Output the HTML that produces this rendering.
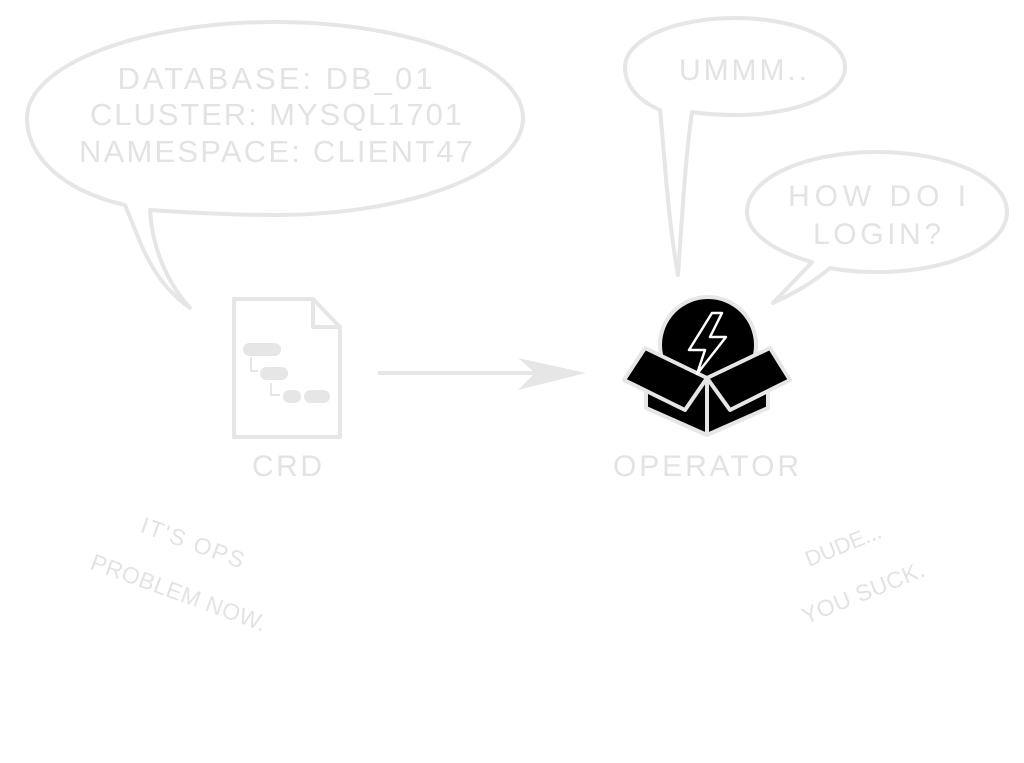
<!DOCTYPE html>
<html><head><meta charset="utf-8">
<style>
html,body{margin:0;padding:0;background:#fff;}
svg{display:block;}
text{font-family:"Liberation Sans",sans-serif;fill:#e3e3e3;}
</style></head>
<body>
<svg width="1024" height="763" viewBox="0 0 1024 763" xmlns="http://www.w3.org/2000/svg">
<g fill="#fff" stroke="#e6e6e6" stroke-width="4" stroke-linejoin="round">
  <path d="M190 308 C150 280,140 240,125 205 C60 190,27 155,27 118 C27 65,140 22,275 22 C410 22,523 65,523 118 C523 172,410 215,275 215 C230 215,180 212,150 210 C152 245,165 280,190 308 Z"/>
  <path d="M678 275 C668 220,665 160,660 110 C637 100,625 85,625 67 C625 40,673 18,735 18 C797 18,845 40,845 67 C845 95,797 115,735 115 C720 115,705 114,692 112 C685 160,682 220,678 275 Z"/>
  <path d="M773 303 C790 285,805 270,812 262 C775 252,747 233,747 212 C747 178,805 152,877 152 C949 152,1007 178,1007 212 C1007 246,949 272,877 272 C860 272,845 271,830 268 C810 285,790 295,773 303 Z"/>
</g>
<text x="275" y="89" font-size="31" text-anchor="middle" textLength="315">DATABASE: DB_01</text>
<text x="276" y="125" font-size="31" text-anchor="middle" textLength="372">CLUSTER: MYSQL1701</text>
<text x="276" y="162" font-size="31" text-anchor="middle" textLength="394">NAMESPACE: CLIENT47</text>
<text x="743" y="80" font-size="30" text-anchor="middle" textLength="128">UMMM..</text>
<text x="877" y="206" font-size="30" text-anchor="middle" textLength="178">HOW DO I</text>
<text x="877" y="244" font-size="30" text-anchor="middle" textLength="128">LOGIN?</text>

<g fill="none" stroke="#e6e6e6" stroke-width="4" stroke-linejoin="round">
  <path d="M234 299 L313 299 L340 327 L340 437 L234 437 Z"/>
  <path d="M313 299 L313 327 L340 327"/>
  <path d="M251 357 L251 371 L258 371" stroke-width="2"/>
  <path d="M271 383 L271 395 L280 395" stroke-width="2"/>
</g>
<g fill="#e6e6e6">
  <rect x="243" y="343" width="38" height="13" rx="6.5"/>
  <rect x="260" y="367" width="28" height="13" rx="6.5"/>
  <rect x="283" y="390" width="18" height="13" rx="6.5"/>
  <rect x="304" y="390" width="26" height="13" rx="6.5"/>
</g>
<text x="287" y="476" font-size="30" text-anchor="middle" textLength="70">CRD</text>

<line x1="378" y1="373" x2="560" y2="373" stroke="#e6e6e6" stroke-width="4"/>
<path d="M518 358 L586 373 L518 390 L535 373 Z" fill="#e6e6e6"/>

<g stroke="#e6e6e6" stroke-width="4" stroke-linejoin="round">
  <circle cx="708" cy="345" r="48" fill="#000"/>
  <path d="M646 362 L646 408 L707 435 L768 408 L768 362 L707 378 Z" fill="#000"/>
  <path d="M707 378 L707 435" fill="none"/>
  <path d="M645 348 L707 378 L685 410 L624 380 Z" fill="#000"/>
  <path d="M770 348 L707 378 L730 410 L790 380 Z" fill="#000"/>
</g>
<path d="M712 313 L689 350 L705 350 L697 374 L726 337 L710 337 L722 313 Z" fill="none" stroke="#fff" stroke-width="2.5" stroke-linejoin="round"/>
<text x="706" y="476" font-size="30" text-anchor="middle" textLength="186">OPERATOR</text>

<text x="190" y="550" font-size="23" text-anchor="middle" textLength="108" transform="rotate(20 190 550)">IT'S OPS</text>
<text x="176" y="600" font-size="23" text-anchor="middle" textLength="185" transform="rotate(20 176 600)">PROBLEM NOW.</text>
<text x="846" y="552" font-size="22" text-anchor="middle" textLength="80" transform="rotate(-22 846 552)">DUDE...</text>
<text x="866" y="600" font-size="23" text-anchor="middle" textLength="130" transform="rotate(-22 866 600)">YOU SUCK.</text>
</svg>
</body></html>
